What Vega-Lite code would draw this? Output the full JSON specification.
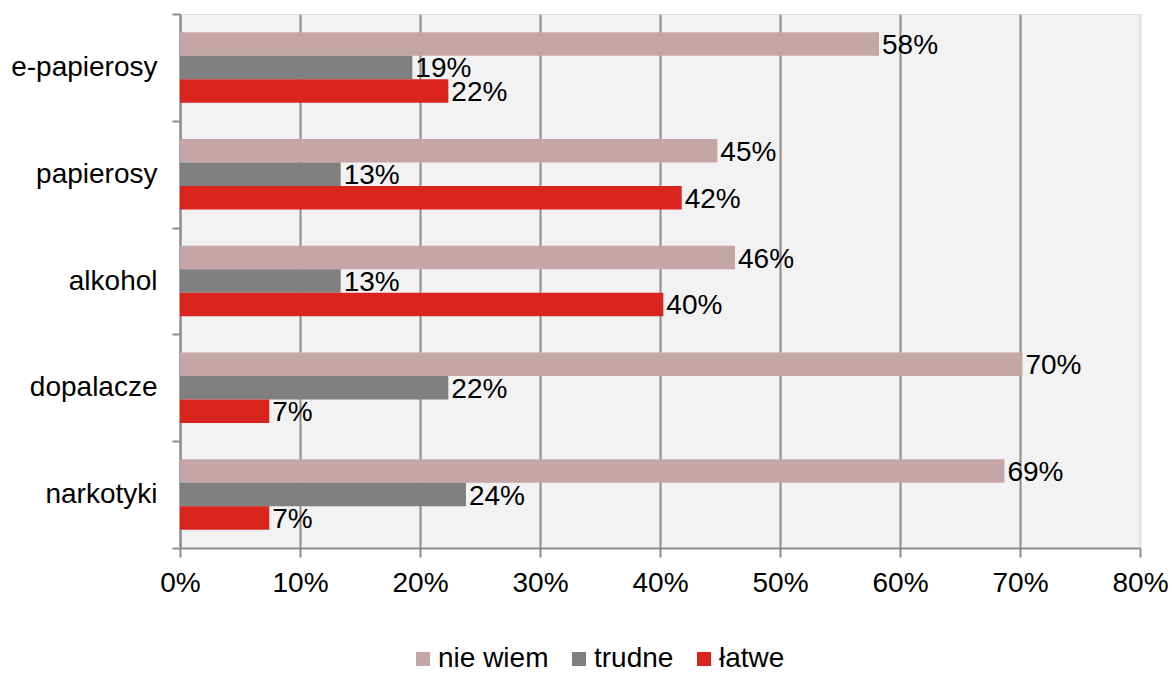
{
  "$schema": "https://vega.github.io/schema/vega-lite/v6.json",
  "width": 960,
  "height": 534,
  "autosize": {"type": "none"},
  "padding": {"left": 180, "top": 14, "right": 32, "bottom": 125},
  "background": "white",
  "config": {
    "font": "Liberation Sans",
    "view": {"fill": "#f2f2f2", "stroke": "#e6dede", "strokeWidth": 1}
  },
  "data": {
    "values": [
      {"category": "e-papierosy", "series": "nie wiem", "value": 0.5825, "label": "58%"},
      {"category": "e-papierosy", "series": "trudne", "value": 0.1936, "label": "19%"},
      {"category": "e-papierosy", "series": "łatwe", "value": 0.2236, "label": "22%"},
      {"category": "papierosy", "series": "nie wiem", "value": 0.4478, "label": "45%"},
      {"category": "papierosy", "series": "trudne", "value": 0.1339, "label": "13%"},
      {"category": "papierosy", "series": "łatwe", "value": 0.4181, "label": "42%"},
      {"category": "alkohol", "series": "nie wiem", "value": 0.4625, "label": "46%"},
      {"category": "alkohol", "series": "trudne", "value": 0.1339, "label": "13%"},
      {"category": "alkohol", "series": "łatwe", "value": 0.4028, "label": "40%"},
      {"category": "dopalacze", "series": "nie wiem", "value": 0.702, "label": "70%"},
      {"category": "dopalacze", "series": "trudne", "value": 0.2236, "label": "22%"},
      {"category": "dopalacze", "series": "łatwe", "value": 0.0744, "label": "7%"},
      {"category": "narkotyki", "series": "nie wiem", "value": 0.687, "label": "69%"},
      {"category": "narkotyki", "series": "trudne", "value": 0.2383, "label": "24%"},
      {"category": "narkotyki", "series": "łatwe", "value": 0.0744, "label": "7%"}
    ]
  },
  "encoding": {
    "y": {
      "field": "category",
      "type": "nominal",
      "sort": ["e-papierosy", "papierosy", "alkohol", "dopalacze", "narkotyki"],
      "scale": {"paddingInner": 0, "paddingOuter": 0},
      "axis": {
        "title": null,
        "tickBand": "extent",
        "tickSize": 8,
        "tickWidth": 2,
        "tickColor": "#8c8c8c",
        "domainColor": "#8c8c8c",
        "domainWidth": 2,
        "labelFontSize": 28,
        "labelColor": "#000000",
        "labelPadding": 15,
        "grid": false
      }
    },
    "yOffset": {
      "field": "series",
      "type": "nominal",
      "sort": ["nie wiem", "trudne", "łatwe"],
      "scale": {"paddingInner": 0, "paddingOuter": 0.7725}
    },
    "x": {
      "field": "value",
      "type": "quantitative",
      "scale": {"domain": [0, 0.8], "nice": false},
      "axis": {
        "title": null,
        "values": [0, 0.1, 0.2, 0.3, 0.4, 0.5, 0.6, 0.7, 0.8],
        "format": ".0%",
        "grid": true,
        "gridColor": {"condition": {"test": "datum.value >= 0.79", "value": "#e6dede"}, "value": "#8c8c8c"},
        "gridWidth": 2,
        "gridOpacity": 1,
        "domainColor": "#8c8c8c",
        "domainWidth": 2,
        "tickColor": "#8c8c8c",
        "tickWidth": 2,
        "tickSize": 9,
        "labelFontSize": 28,
        "labelColor": "#000000",
        "labelPadding": 12,
        "labelFlush": false,
        "labelOverlap": false
      }
    }
  },
  "layer": [
    {
      "mark": {"type": "bar"},
      "encoding": {
        "color": {
          "field": "series",
          "type": "nominal",
          "scale": {"domain": ["nie wiem", "trudne", "łatwe"], "range": ["#c5a6a7", "#808080", "#da251e"]},
          "legend": {
            "title": null,
            "orient": "none",
            "legendX": 229,
            "legendY": 631,
            "direction": "horizontal",
            "symbolType": "square",
            "symbolSize": 196,
            "symbolStrokeWidth": 0,
            "labelFontSize": 28,
            "labelColor": "#000000",
            "labelOffset": 1,
            "columnPadding": 16
          }
        }
      }
    },
    {
      "mark": {"type": "text", "align": "left", "baseline": "middle", "dx": 3, "dy": 2, "fontSize": 28, "color": "#000000"},
      "encoding": {"text": {"field": "label"}}
    }
  ]
}
